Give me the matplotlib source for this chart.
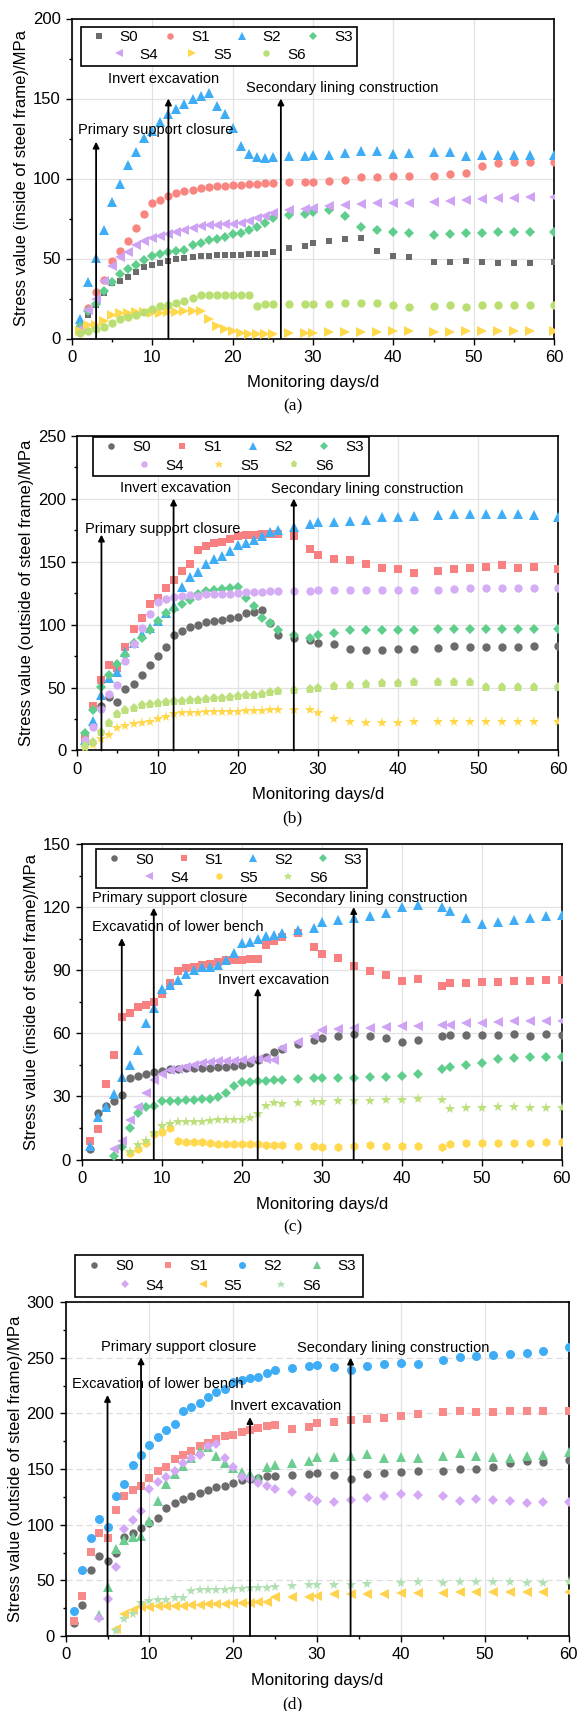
import numpy as np
import matplotlib
matplotlib.use("Agg")
import matplotlib.pyplot as plt
from matplotlib.patches import Rectangle

plt.rcParams['font.family'] = ['Liberation Sans', 'DejaVu Sans']

W, H = 579, 1711
nan = np.nan

# --- data -----------------------------------------------------------------
EARLY = list(range(1, 26))
DAYS = EARLY + [27, 29, 30, 32, 34, 36, 38, 40, 42, 45, 47, 49, 51, 53, 55, 57, 60]
DAYS_C = EARLY + [27, 29, 30, 32, 34, 36, 38, 40, 42, 45, 46, 48, 50, 52, 54, 56, 58, 60]
LABELS = ["S0", "S1", "S2", "S3", "S4", "S5", "S6"]

# (a) inside of steel frame
A_S0 = [6, 14.5, 21, 28.5, 34.8, 36, 38.7, 41.8, 45, 46.2, 47.5, 48.5, 49.6, 50.2, 50.8, 51.3, 51.7, 52.1, 52.1, 52.3, 52.5, 52.7, 52.9, 53.1, 53.9,
        56.5, 57.7, 60, 60.9, 61.9, 62.7, 54.8, 51.6, 50.8, 47.8, 48.1, 48.7, 48.1, 47, 47, 47.2, 47.6]
A_S1 = [8.3, 19, 29, 36.3, 48.2, 55, 60.8, 69, 77.9, 85, 86.8, 88.9, 91, 92, 93, 93.8, 94.9, 95.1, 95.5, 95.9, 96.1, 96.5, 96.7, 97, 97.4,
        97.6, 97.8, 98, 98.6, 98.8, 100.7, 101.2, 101.4, 101.6, 101.6, 102.8, 103.7, 107.7, 109.5, 110.6, 110.6, 110.6]
A_S2 = [12.5, 35.5, 50.5, 67.6, 85.5, 96.4, 108.6, 116.8, 125.6, 130, 135.3, 140.3, 143.5, 146.5, 149.4, 151.5, 153.4, 145.5, 140.3, 131.3, 120.4, 115.3, 113.5, 112.6, 113.6,
        114.2, 114.2, 114.5, 115, 116, 117, 117, 115.5, 116, 116.5, 116.5, 114, 114.5, 114.5, 115, 115, 115]
A_S3 = [7.1, 17.2, 21.8, 30, 35.5, 40.3, 43.3, 46.2, 49.2, 51.3, 52.9, 53.8, 54.4, 55.5, 58.6, 59.9, 61.6, 62.4, 63.2, 65.3, 66, 67.9, 70, 72.3, 75.2,
        77, 78, 79, 80.6, 76.8, 69.7, 67.6, 66.7, 65.9, 64.8, 65.3, 65.9, 65.9, 66.7, 66.7, 66.7, 66.7]
A_S4 = [6, 18, 25, 36, 45.4, 50.8, 54, 58.6, 61.1, 62.8, 63.9, 65.3, 66.6, 67.6, 69.1, 70.2, 70.8, 71.2, 71.6, 71.6, 72.3, 73.5, 75.2, 76.7, 78.2,
        80.5, 81, 81.4, 83.1, 83.5, 84, 84.4, 84.6, 84.8, 85.2, 86, 86.5, 87.3, 88.1, 88.1, 88.4, 88.4]
A_S5 = [5, 8.6, 8.3, 11.2, 15, 16, 16, 16.3, 16.5, 16, 15.8, 16.3, 16.7, 16.9, 16.9, 16.9, 11.9, 8.1, 5.8, 4.6, 3.7, 3, 3, 3, 3,
        3.4, 3.5, 3.5, 3.8, 3.8, 4, 4.2, 4.4, 4.6, 4.2, 4.3, 4.4, 4.6, 4.6, 4.6, 4.6, 4.6]
A_S6 = [3.6, 5, 6.1, 7.1, 9.9, 12, 13.4, 14.5, 16.6, 18.7, 20.2, 21.2, 22.3, 23.5, 25.4, 26.9, 26.9, 26.9, 27.1, 27.1, 27.1, 27.3, 20.2, 21.4, 21.4,
        21.3, 21.4, 21.4, 21.8, 22, 22.5, 22.5, 20.8, 19.9, 20.4, 20.8, 19.9, 20.8, 20.8, 20.8, 20.8, 20.8]

# (b) outside of steel frame
B_S0 = [nan, nan, 35.4, 42.3, 38.8, 49, 53, 60, 68.2, 75.1, 81.8, 91.9, 95, 97.9, 99.7, 101.9, 103, 103.8, 104.8, 105.8, 109.1, 109.7, 111.7, 101, 91.9,
        89.2, 88, 85.6, 84.8, 80.8, 79.4, 80, 80.2, 80.8, 81.6, 82.6, 82.1, 81.8, 81.8, 82.1, 82.6, 82.6]
B_S1 = [10, 35.7, 56, 68.2, 65.5, 82.2, 96.2, 105.2, 116.1, 121.2, 129, 135.1, 142.2, 148.1, 159.3, 162.5, 164.4, 165.5, 168, 170.2, 171, 171.3, 171.5, 171.5, 171.5,
        170, 160, 155, 152, 151, 148, 144.7, 144, 140.7, 142.9, 144, 144.7, 146, 146.9, 144.7, 146, 144]
B_S2 = [8, 23.4, 44.4, 57.5, 62, 78.5, 85, 92.5, 97, 103, 109, 115, 130, 137.5, 141.8, 148.4, 152.4, 154.8, 158.2, 162.8, 164.9, 166.8, 170.5, 173.4, 175.3,
        177.6, 180.2, 181.5, 181.5, 182, 182.6, 185.2, 185.5, 186, 186.8, 187.4, 187.4, 187.9, 187.9, 187.4, 186.6, 185.5]
B_S3 = [13.5, 32.4, 50.5, 59.8, 68.3, 75.7, 85.5, 89, 95.4, 103.1, 109.5, 112.1, 116.1, 119.6, 124, 126.5, 127.6, 128.5, 129.3, 129.8, 120.8, 114.7, 104.8, 101.6, 95.6,
        91.8, 89.6, 92, 93.6, 96, 95.4, 95.4, 96, 96, 96.7, 96.7, 96.7, 96.7, 96.7, 96.7, 96.7, 96.7]
B_S4 = [8.5, 18.9, 33, 44.8, 52.2, 70.9, 84.8, 97.5, 108.7, 118, 120, 122, 122.6, 123.4, 122.9, 124, 124, 124, 124.2, 125.3, 126, 126, 126, 126.6, 126.6,
        126.6, 126.6, 127.1, 127.4, 127.4, 127.4, 127.4, 127.4, 127.7, 127.7, 128.2, 128.7, 128.7, 129, 128.7, 128.7, 128.7]
B_S5 = [2, 4.3, 8.8, 12.3, 17.6, 19.5, 21.3, 21.9, 22.9, 24.8, 26.9, 28.8, 29.6, 30.1, 30.1, 30.6, 30.6, 30.6, 30.9, 30.9, 31.4, 31.4, 31.4, 32, 32,
        32.2, 32, 29.6, 24.8, 22.9, 22.1, 22.1, 22.1, 22.7, 22.7, 22.9, 22.7, 22.9, 22.9, 22.9, 22.9, 22.9]
B_S6 = [3.5, 6.9, 14.5, 22.1, 28.8, 32, 34.1, 36, 36.8, 37.6, 38.6, 39.2, 39.4, 39.7, 40.2, 40.8, 41.3, 41.8, 42.6, 43.4, 44, 44.2, 45, 46.1, 46.9,
        48, 48.8, 49.8, 51.2, 52, 52.8, 53.8, 53.8, 54.1, 54.6, 54.6, 54.6, 50.1, 50.1, 50.1, 50.1, 50.1]

# (c) inside of steel frame
C_S0 = [5.1, 22, 25.2, 27.8, 30.8, 38.7, 39.8, 40.8, 41.7, 42.2, 42.8, 43.1, 43.4, 43.4, 43.6, 43.6, 43.9, 44.2, 44.4, 44.7, 45.8, 47.5, 48.7, 51, 52.7,
        54.7, 56.6, 57.8, 58.7, 59.7, 58.7, 57.8, 55.8, 56.6, 58.7, 59, 59, 59.4, 59.4, 59.8, 58.7, 59.5, 59]
C_S1 = [8.8, 14.6, 35.7, 49.6, 67.9, 69.6, 72.7, 73.6, 74.8, 78.5, 84, 89.7, 90.9, 91.7, 92.5, 93, 94.1, 94.8, 94.8, 94.9, 95.1, 95.4, 101.8, 103.7, 105.7,
        107.7, 100.8, 97.7, 95.7, 91.8, 89.8, 87.8, 84.9, 85.7, 82.7, 83.8, 84.1, 84.3, 84.6, 84.7, 85, 85.2, 85.5]
C_S2 = [6.5, 20, 25, 31, 39, 45, 52, 65, 72, 81, 83.2, 85.2, 88.1, 90, 91.3, 91.6, 92.5, 95, 98.1, 102.9, 103.4, 105, 106.1, 106.9, 107.7,
        109, 110.1, 113, 114.1, 114.9, 116, 117, 120, 121, 120, 118, 114.9, 112, 113, 114.1, 114.9, 115.8, 116.2]
C_S3 = [nan, nan, nan, 1.5, 6, 14.8, 21.9, 24.8, 25.6, 27.8, 28, 28, 28.2, 28.5, 28.6, 28.8, 29.5, 31.6, 34.8, 36.8, 37, 37.2, 37.3, 37.7, 38,
        38.3, 38.6, 38.8, 38.9, 38.9, 39.3, 39.4, 39.7, 40.7, 42.8, 43.9, 45, 45.8, 47.9, 48.3, 48.7, 48.7, 48.7]
C_S4 = [nan, nan, nan, 4.8, 8.8, 18.8, 25.1, 31.8, 37.8, 40.6, 42.6, 43.1, 44.2, 45, 45.8, 46.3, 46.6, 46.8, 46.9, 47.1, 47.4, 47.8, 47.6, 47.2, 53,
        55.8, 58.7, 61.4, 62.2, 62.5, 62.7, 63, 63.3, 63.5, 63.8, 64.1, 64.9, 65.1, 65.4, 65.7, 65.7, 65.7, 65.7]
C_S5 = [nan, nan, nan, nan, nan, 3, 5, 7.7, 12, 13, 14.8, 8.8, 8.3, 8.3, 8.5, 7.8, 7.2, 7.2, 7.2, 7.5, 7.5, 7.2, 6.9, 6.9, 6.7,
        6.4, 6.4, 6.1, 5.9, 6.4, 6.7, 6.4, 6.4, 6.4, 6.1, 7.5, 7.7, 8, 8, 8, 8, 8.3, 8.5]
C_S6 = [nan, nan, nan, nan, nan, 3.8, 7, 8.9, 12.6, 16.1, 16.9, 17.6, 17.6, 17.9, 18, 18.4, 18.6, 18.7, 18.8, 18.8, 19.8, 21.8, 25.2, 27, 26.4,
        26.8, 27.1, 27.4, 27.8, 27.8, 27.9, 28.4, 28.4, 28.7, 28.2, 23.9, 24.3, 24.3, 25.1, 25.1, 24.3, 24.4, 24.7]

# (d) outside of steel frame
D_S0 = [11.5, 28, 59.3, 71.7, 67.7, 74.7, 88.5, 92.2, 97, 101.5, 106, 115.2, 119.1, 123, 125.8, 128.8, 131, 134, 135, 137, 140, 141, 142, 143.3, 144,
        144.3, 145.4, 146.4, 144.3, 141.3, 145.2, 146.6, 147.3, 148, 148.5, 149.6, 150.3, 151.5, 155.5, 157.1, 156.4, 158.5]
D_S1 = [13.9, 35.8, 75.2, 92.4, 88.2, 113.3, 125.8, 131.1, 135, 142.3, 148.3, 152, 158.9, 162.8, 166.4, 170.3, 173.3, 177.3, 179.4, 180.9, 183, 184.8, 186.9, 188.4, 189.9,
        186, 188.1, 191.1, 192, 193.9, 195, 196, 198, 199, 201.4, 202, 201.1, 201.4, 201.7, 202, 202, 202]
D_S2 = [22.1, 59.1, 87.9, 104.8, 97.9, 126, 136.4, 153.9, 163, 171.2, 179, 185.2, 190.3, 201.8, 205.8, 209.7, 215, 218.8, 221.8, 228, 229.5, 231.5, 233, 236, 238.5,
        240.3, 242.4, 243, 241.5, 239.2, 242.4, 244.2, 245.2, 244.5, 247.5, 250.5, 251.4, 252, 253.6, 254.4, 256.2, 259.5]
D_S3 = [nan, nan, nan, 18.5, 44.3, 77.7, 85.9, 88.9, 89.6, 103.2, 121.4, 136.5, 145.4, 153.1, 159.8, 166.4, 169.4, 161.3, 155.3, 151.3, 147.7, 145.3, 142.3, 151.6, 153.8,
        155.5, 157.6, 160.4, 161.2, 162.1, 163.2, 160.2, 161.2, 160.2, 162.1, 164.3, 162, 161.2, 159.9, 162, 162.9, 164.9]
D_S4 = [nan, nan, nan, 16, 33.2, 62, 96, 104.2, 112.7, 132, 138.7, 143, 148.3, 155.3, 159.8, 162.8, 170.3, 172.7, 159.8, 151.6, 143.2, 140.8, 137.8, 134.8, 132,
        129.2, 124.6, 121.7, 120.5, 122.5, 123.8, 125.6, 127.4, 126.5, 125.6, 121.7, 123.5, 122.5, 121.7, 119.6, 120.8, 120.5]
D_S5 = [nan, nan, nan, nan, nan, 6.5, 19.6, 23.5, 25.6, 26.2, 26.5, 26.8, 27.1, 27.1, 27.7, 28, 28.3, 28.6, 28.9, 29.2, 29.2, 29.5, 30.1, 30.8, 35.3,
        35.2, 35.4, 36.3, 37.3, 38, 38, 37.3, 38.3, 38.7, 38.7, 39.2, 39.3, 39.5, 39.8, 39.5, 39.5, 39.2]
D_S6 = [nan, nan, nan, nan, nan, 4.6, 15, 20.2, 29.2, 31, 32.3, 32.6, 33.8, 33.8, 40.7, 40.9, 41.3, 41.3, 41.5, 42.2, 42.2, 42.8, 43.4, 43.4, 44.3,
        44.6, 45.6, 45.6, 45.8, 45.8, 47.1, nan, 47.6, 48.2, 48, 48.2, 48.5, 48.2, 48.2, 48, 48, 48.2]

# construction events: (day, arrow top) and labels (text, x, y)
EVENTS_A = [(3, 123), (12, 150), (26, 150)]
TEXTS_A = [("Primary support closure", 0.78, 130.3), ("Invert excavation", 4.5, 162.2),
           ("Secondary lining construction", 21.7, 156.3)]
EVENTS_B = [(3, 171.4), (12, 200), (27, 200)]
TEXTS_B = [("Primary support closure", 0.92, 175.9), ("Invert excavation", 5.3, 208.7),
           ("Secondary lining construction", 24.1, 207.4)]
EVENTS_C = [(5, 105.3), (9, 119.7), (22, 81.4), (34, 120)]
TEXTS_C = [("Primary support closure", 1.3, 124.1), ("Excavation of lower bench", 1.3, 110.4),
           ("Invert excavation", 17.05, 85.4), ("Secondary lining construction", 24.2, 124.5)]
EVENTS_D = [(5, 216.5), (9, 250.3), (22, 196.6), (34, 250)]
TEXTS_D = [("Primary support closure", 4.2, 259.9), ("Excavation of lower bench", 0.75, 226.7),
           ("Invert excavation", 19.6, 206.5), ("Secondary lining construction", 27.6, 258.4)]

GRAY, RED, BLUE, GREEN = "#6b6b6b", "#f8857f", "#3fadf5", "#5fcd8b"
LAV, YEL, LIME = "#cfa3f4", "#ffd84d", "#b9df72"

panels = [
    dict(days=DAYS, series=[A_S0, A_S1, A_S2, A_S3, A_S4, A_S5, A_S6],
         markers=[('s', 5), ('o', 6), ('^', 6.5), ('D', 5), ('<', 6.5), ('>', 6.5), ('o', 6)],
         colors=[GRAY, RED, BLUE, GREEN, LAV, YEL, LIME],
         ymax=200, ystep=50, ylabel="Stress value (inside of steel frame)/MPa", cap="(a)",
         events=EVENTS_A, texts=TEXTS_A, box=(72, 18.5, 554, 338.5), dashed_y=False,
         leg=((81, 27, 357.4, 65.5), (98.8, 71.6, 37), (118.7, 73.7, 54.8))),
    dict(days=DAYS, series=[B_S0, B_S1, B_S2, B_S3, B_S4, B_S5, B_S6],
         markers=[('o', 6), ('s', 5.3), ('^', 6.5), ('D', 5), ('o', 6), ('*', 8), ('p', 6.5)],
         colors=[GRAY, "#f88080", BLUE, GREEN, "#d5adf5", YEL, "#bde07c"],
         ymax=250, ystep=50, ylabel="Stress value (outside of steel frame)/MPa", cap="(b)",
         events=EVENTS_B, texts=TEXTS_B, box=(77.4, 435.6, 558.3, 750.5), dashed_y=False,
         leg=((92.9, 436.7, 368.5, 475.5), (111.3, 71.1, 447.3), (144, 75.2, 465.5))),
    dict(days=DAYS_C, series=[C_S0, C_S1, C_S2, C_S3, C_S4, C_S5, C_S6],
         markers=[('o', 6), ('s', 5.3), ('^', 6.5), ('D', 5), ('<', 6.5), ('h', 6.5), ('*', 8)],
         colors=[GRAY, "#f88080", BLUE, GREEN, LAV, YEL, "#bde07c"],
         ymax=150, ystep=30, ylabel="Stress value (inside of steel frame)/MPa", cap="(c)",
         events=EVENTS_C, texts=TEXTS_C, box=(81.8, 844, 561.6, 1159.5), dashed_y=False,
         leg=((95.8, 848.9, 366.7, 887.5), (114.2, 69.5, 859.6), (149.2, 69.7, 877.8))),
    dict(days=DAYS, series=[D_S0, D_S1, D_S2, D_S3, D_S4, D_S5, D_S6],
         markers=[('o', 6), ('s', 5.3), ('o', 6.5), ('^', 6.5), ('D', 5.5), ('<', 6.5), ('*', 8)],
         colors=[GRAY, "#f98a8a", BLUE, "#6dcc90", "#d4a8f5", "#ffd34d", "#b2e0b4"],
         ymax=300, ystep=50, ylabel="Stress value (outside of steel frame)/MPa", cap="(d)",
         events=EVENTS_D, texts=TEXTS_D, box=(65.6, 1302, 568.5, 1636), dashed_y=True,
         leg=((74.8, 1255, 363, 1297), (94, 74.3, 1266.5), (124.6, 78.3, 1285.7))),
]

fig = plt.figure(figsize=(W / 100, H / 100), dpi=100)

LEG_FS = 11
FS_PX = LEG_FS * 100 / 72
HL, HTP = 1.0, 0.87


def fx(x):
    return x / W


def fy(y):
    return 1 - y / H


for p in panels:
    l, t, r, b = p['box']
    ax = fig.add_axes([fx(l), fy(b), (r - l) / W, (b - t) / H])
    handles = []
    for vals, (m, ms), c, lab in zip(p['series'], p['markers'], p['colors'], LABELS):
        ln, = ax.plot(p['days'], vals, linestyle='none', marker=m, ms=ms, color=c,
                      mew=0, zorder=3, label=lab)
        handles.append(ln)

    ax.set_xlim(0, 60)
    ax.set_ylim(0, p['ymax'])
    ax.set_xticks(np.arange(0, 61, 10))
    ax.set_xticks(np.arange(0, 61, 5), minor=True)
    ax.set_yticks(np.arange(0, p['ymax'] + 1, p['ystep']))
    ax.set_yticks(np.arange(0, p['ymax'] + 1, p['ystep'] / 2), minor=True)
    ax.tick_params(which='both', direction='out', top=False, right=False, width=1.0)
    ax.tick_params(which='major', length=4.5, labelsize=12, pad=3.5)
    ax.tick_params(which='minor', length=2.5)
    for s in ax.spines.values():
        s.set_linewidth(1.2)
    ax.set_axisbelow(True)
    ax.xaxis.grid(True, which='major', color='#e2e2e2', lw=0.9)
    if p['dashed_y']:
        ax.yaxis.grid(True, which='major', color='#dddddd', lw=0.9, linestyle=(0, (5, 3)))
    else:
        ax.yaxis.grid(True, which='major', color='#e2e2e2', lw=0.9)

    for x, top in p['events']:
        ax.annotate('', xy=(x, top), xytext=(x, 0),
                    arrowprops=dict(arrowstyle='-|>', color='black', lw=1.3,
                                    shrinkA=0, shrinkB=0, mutation_scale=9),
                    zorder=4)
    for s, x, y in p['texts']:
        ax.text(x, y, s, fontsize=10.5, ha='left', va='center', zorder=5)

    h_px = b - t
    w_px = r - l
    ax.set_xlabel("Monitoring days/d", fontsize=12)
    ax.xaxis.label.set_verticalalignment('center')
    ax.xaxis.set_label_coords(0.5, -44.5 / h_px)
    ax.set_ylabel(p['ylabel'], fontsize=12)
    ax.yaxis.label.set_verticalalignment('center')
    ax.yaxis.set_label_coords(-50.5 / w_px, 0.5)

    fig.text(fx(292.5), fy(b + 68), p['cap'], family=['Liberation Serif', 'DejaVu Serif'],
             fontsize=12.5, ha='center', va='center')

    # legend: framed box with 4 + 3 entries, markers drawn smaller than in the plot
    (bx0, by0, bx1, by1), (r1x, r1p, r1y), (r2x, r2p, r2y) = p['leg']
    fig.add_artist(Rectangle((fx(bx0), fy(by1)), (bx1 - bx0) / W, (by1 - by0) / H,
                             transform=fig.transFigure, facecolor='white',
                             edgecolor='black', lw=1.2, zorder=4))
    text_w = 1.223 * FS_PX
    for hs, x0, pitch, y0 in ((handles[:4], r1x, r1p, r1y), (handles[4:], r2x, r2p, r2y)):
        cs = (pitch - (HL + HTP) * FS_PX - text_w) / FS_PX
        leg = fig.legend(hs, [h.get_label() for h in hs], ncol=len(hs), loc='center left',
                         bbox_to_anchor=(fx(x0 - HL * FS_PX / 2), fy(y0)),
                         bbox_transform=fig.transFigure, frameon=False, borderpad=0,
                         borderaxespad=0, handlelength=HL, handletextpad=HTP,
                         columnspacing=cs, fontsize=LEG_FS, numpoints=1, markerscale=0.78)
        leg.set_zorder(5)

fig.savefig("out.png", dpi=100)
